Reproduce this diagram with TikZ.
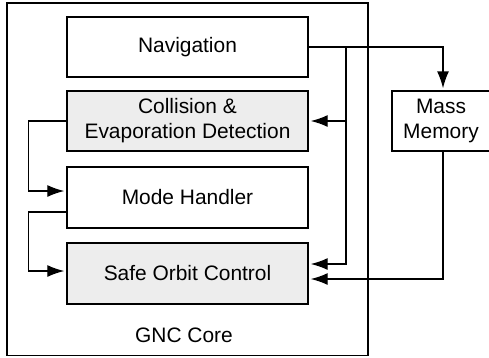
\documentclass[tikz,border=0pt]{standalone}
\usepackage{fontspec}
\setmainfont{Liberation Sans}
\usetikzlibrary{arrows.meta,calc}
\begin{document}
\begin{tikzpicture}[x=1bp,y=-1bp,
  every node/.style={font=\fontsize{21}{25}\selectfont},
  blk/.style={draw,line width=1.4bp,minimum width=241bp,minimum height=60bp,inner sep=0pt,align=center},
  grey/.style={blk,fill=black!7},
  con/.style={line width=1.4bp},
  arr/.style={con,-{Latex[length=17bp,width=12bp]},shorten >=2bp}]
\useasboundingbox (0,0) rectangle (489,357);
\draw[line width=1.4bp] (7,3) rectangle (368,355.5);
\node[blk] (nav) at (187.5,47) {Navigation};
\node[grey] (coll) at (187.5,121) {Collision \&\\Evaporation Detection};
\node[blk,minimum height=61bp] (mode) at (187.5,197.5) {Mode Handler};
\node[grey,minimum height=61bp] (safe) at (187.5,273.5) {Safe Orbit Control};
\node[blk,minimum width=98bp] (mm) at (441,121) {Mass\\Memory};
\node (gnc) at (184,335) {GNC Core};
\coordinate (bus) at (346,47);
\draw[arr] (nav.east) -| ([xshift=2bp]mm.north);
\draw[arr] (bus) |- ([yshift=9.5bp]safe.east);
\draw[arr] (bus |- coll.east) -- (coll.east);
\draw[arr] ([xshift=2bp]mm.south) |- ([yshift=-5.5bp]safe.east);
\draw[arr] (coll.west) -- ++(-38,0) |- ([yshift=6.5bp]mode.west);
\draw[arr] ([yshift=-14.5bp]mode.west) -- ++(-38,0) |- ([yshift=2.5bp]safe.west);
\end{tikzpicture}
\end{document}
